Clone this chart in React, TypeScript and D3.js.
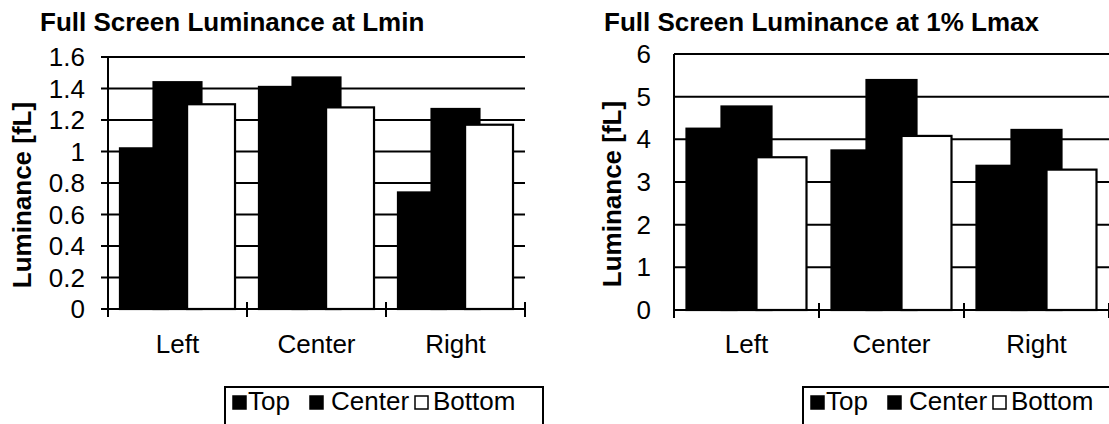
import React from "react";
import * as d3 from "d3";

const categories = ["Left", "Center", "Right"];
const seriesNames = ["Top", "Center", "Bottom"];
const seriesFill = ["#000", "#000", "#fff"];

const lminTop = [1.02, 1.41, 0.74];
const lminCenter = [1.44, 1.47, 1.27];
const lminBottom = [1.3, 1.28, 1.17];

const lmaxTop = [4.25, 3.74, 3.38];
const lmaxCenter = [4.77, 5.39, 4.22];
const lmaxBottom = [3.58, 4.08, 3.29];

const lminTicks = [0, 0.2, 0.4, 0.6, 0.8, 1, 1.2, 1.4, 1.6];
const lmaxTicks = [0, 1, 2, 3, 4, 5, 6];

const FONT = "'Liberation Sans', Arial, Helvetica, sans-serif";
const FS = 26;

const legendMarkerX = [8, 85, 190];
const legendTextX = [23, 106, 208];

type PanelProps = {
  title: string;
  titleX: number;
  series: number[][];
  ticks: number[];
  x0: number;
  x1: number;
  y0: number;
  y1: number;
  ymax: number;
  labelRight: number;
  yTitleX: number;
  outerTicks: boolean;
  legendX: number;
};

function Panel(p: PanelProps) {
  const x = d3.scaleBand<string>().domain(categories).range([p.x0, p.x1]).padding(0);
  const y = d3.scaleLinear().domain([0, p.ymax]).range([p.y0, p.y1]);
  const bw = x.bandwidth();
  const overlap = 0.3;
  const gap = 0.5;
  const w = bw / (3 - 2 * overlap + gap);
  const step = w * (1 - overlap);
  const off = (gap * w) / 2;
  const boundaries = [...categories.map((c) => x(c) as number), p.x1];
  return (
    <g>
      <text x={p.titleX} y={31} fontFamily={FONT} fontWeight="bold" fontSize={FS}>
        {p.title}
      </text>
      <text
        transform={`translate(${p.yTitleX},${(p.y0 + p.y1) / 2 + 12}) rotate(-90)`}
        textAnchor="middle"
        fontFamily={FONT}
        fontWeight="bold"
        fontSize={FS}
      >
        Luminance [fL]
      </text>
      {p.ticks.map((t) => (
        <g key={"g" + t}>
          {t > 0 && (
            <line
              x1={p.outerTicks ? p.x0 - 7 : p.x0}
              x2={p.x1}
              y1={y(t)}
              y2={y(t)}
              stroke="#000"
              strokeWidth={2}
            />
          )}
          <text
            x={p.labelRight}
            y={y(t)}
            dy="0.35em"
            textAnchor="end"
            fontFamily={FONT}
            fontSize={FS}
          >
            {String(t)}
          </text>
        </g>
      ))}
      {p.outerTicks && (
        <line x1={p.x0 - 7} x2={p.x0} y1={p.y0} y2={p.y0} stroke="#000" strokeWidth={2} />
      )}
      {seriesNames.map((s, si) =>
        categories.map((c, ci) => {
          const v = p.series[si][ci];
          const bx = (x(c) as number) + off + si * step;
          return (
            <rect
              key={s + c}
              x={bx}
              y={y(v)}
              width={w}
              height={p.y0 - y(v)}
              fill={seriesFill[si]}
              stroke="#000"
              strokeWidth={2.2}
            />
          );
        })
      )}
      <line x1={p.x0} x2={p.x0} y1={p.y0} y2={p.y1} stroke="#000" strokeWidth={2} />
      <line x1={p.x0 - 1} x2={p.x1} y1={p.y0} y2={p.y0} stroke="#000" strokeWidth={2} />
      {boundaries.map((b, i) => (
        <line key={"xt" + i} x1={b} x2={b} y1={p.y0 - 7} y2={p.y0 + 8} stroke="#000" strokeWidth={2} />
      ))}
      {categories.map((c) => (
        <text
          key={"xl" + c}
          x={(x(c) as number) + bw / 2}
          y={353}
          textAnchor="middle"
          fontFamily={FONT}
          fontSize={FS}
        >
          {c}
        </text>
      ))}
      <g transform={`translate(${p.legendX},387)`}>
        <rect x={0} y={0} width={318} height={50} fill="#fff" stroke="#000" strokeWidth={2} />
        {seriesNames.map((s, si) => (
          <g key={"lg" + s}>
            <rect
              x={legendMarkerX[si]}
              y={9}
              width={13}
              height={13}
              fill={seriesFill[si]}
              stroke="#000"
              strokeWidth={1.5}
            />
            <text x={legendTextX[si]} y={23} fontFamily={FONT} fontSize={FS}>
              {s}
            </text>
          </g>
        ))}
      </g>
    </g>
  );
}

export default function App() {
  return (
    <svg
      width={1109}
      height={424}
      style={{ position: "absolute", left: 0, top: 0, background: "#fff" }}
    >
      <rect width={1109} height={424} fill="#fff" />
      <Panel
        title="Full Screen Luminance at Lmin"
        titleX={40}
        series={[lminTop, lminCenter, lminBottom]}
        ticks={lminTicks}
        x0={108}
        x1={525}
        y0={309}
        y1={57}
        ymax={1.6}
        labelRight={85}
        yTitleX={31}
        outerTicks={true}
        legendX={225}
      />
      <Panel
        title="Full Screen Luminance at 1% Lmax"
        titleX={604}
        series={[lmaxTop, lmaxCenter, lmaxBottom]}
        ticks={lmaxTicks}
        x0={674}
        x1={1109}
        y0={310}
        y1={54}
        ymax={6}
        labelRight={651}
        yTitleX={621}
        outerTicks={false}
        legendX={803}
      />
    </svg>
  );
}
